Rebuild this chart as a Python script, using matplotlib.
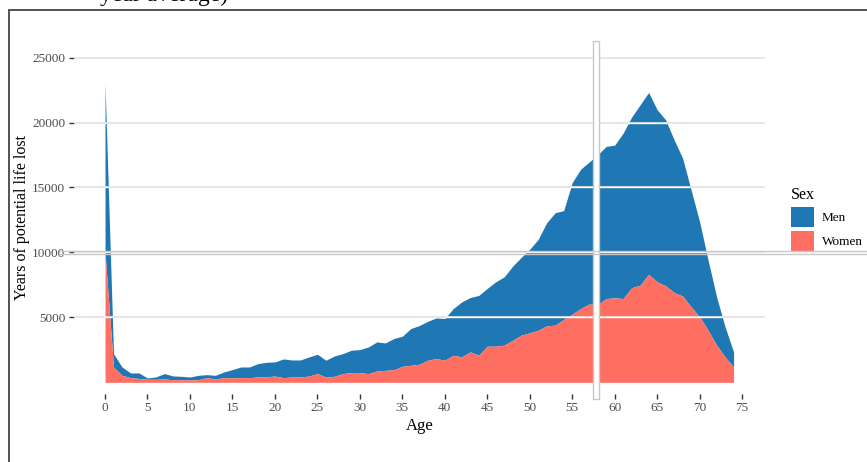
import matplotlib
matplotlib.use("Agg")
import matplotlib.pyplot as plt
from matplotlib.patches import Rectangle, Patch
from matplotlib.lines import Line2D
import numpy as np

plt.rcParams['font.family'] = ['Liberation Serif', 'DejaVu Serif']

ages = list(range(0, 75))
women = [9950, 1180, 540, 360, 300, 230, 230, 260, 200, 200,
         180, 200, 360, 260, 360, 330, 360, 360, 410, 430,
         480, 360, 410, 410, 480, 670, 410, 460, 670, 750,
         750, 670, 870, 920, 970, 1230, 1310, 1390, 1700, 1830,
         1700, 2080, 1960, 2340, 2080, 2780, 2780, 2860, 3240, 3630,
         3810, 4010, 4350, 4400, 4840, 5250, 5680, 6030, 5960, 6450,
         6500, 6450, 7280, 7480, 8310, 7740, 7430, 6920, 6640, 5810,
         5040, 4010, 2860, 1950, 1180]
men = [13050, 1020, 640, 360, 420, 100, 190, 410, 290, 260,
       230, 340, 230, 280, 440, 650, 820, 820, 1030, 1110,
       1090, 1440, 1310, 1310, 1470, 1490, 1290, 1570, 1540, 1720,
       1770, 2050, 2240, 2110, 2400, 2320, 2830, 2980, 3000, 3130,
       3210, 3600, 4230, 4190, 4610, 4450, 4960, 5260, 5710, 5990,
       6430, 7000, 7940, 8660, 8380, 10130, 10730, 10930, 11560, 11710,
       11760, 12740, 13140, 13890, 14010, 13250, 12780, 11750, 10620, 9000,
       7330, 5400, 3720, 2320, 1160]
series_labels = ["Men", "Women"]
x_ticks = list(range(0, 80, 5))
y_ticks = [5000, 10000, 15000, 20000, 25000]

C_MEN = "#1F77B4"
C_WOMEN = "#FF6F61"

W, H = 867, 462
fig = plt.figure(figsize=(W / 100, H / 100), dpi=100)
ax = fig.add_axes([73.6 / W, 68 / H, (765 - 73.6) / W, (394 - 42) / H])

x = np.array(ages)
w = np.array(women)
tot = w + np.array(men)

p_men = ax.fill_between(x, w, tot, color=C_MEN, lw=0, zorder=2)
p_women = ax.fill_between(x, 0, w, color=C_WOMEN, lw=0, zorder=2)

ax.set_xlim(-3.7, 77.7)
ax.set_ylim(-900, 26200)
ax.set_xticks(x_ticks)
ax.set_yticks(y_ticks)
for s in ax.spines.values():
    s.set_visible(False)
ax.tick_params(axis='both', length=3.5, width=1, color='#333333',
               labelcolor='#4d4d4d', labelsize=9.5, pad=2.5)

# gridlines drawn on top
for yv in y_ticks:
    ax.axhline(yv, color='#e2e2e2', lw=1.2, zorder=3)
    for poly in (p_men, p_women):
        ln = ax.axhline(yv, color='white', lw=1.0, zorder=4)
        ln.set_clip_path(poly.get_paths()[0], transform=ax.transData)

# double line artifact near 10000
y10 = ax.transData.transform((0, 10000))[1]
for off in (-1.6, 1.6):
    yy = (y10 + off) / H
    fig.add_artist(Line2D([60 / W, 1.0], [yy, yy], color='#c8c8c8', lw=1.0, zorder=6))

# vertical bar artifact
ax.add_patch(Rectangle((57.5, -1250), 0.6, 27500, facecolor='white',
                       edgecolor='#c8c8c8', lw=1.0, clip_on=False, zorder=7))

ax.set_xlabel("Age", fontsize=12, color='black', labelpad=3)
ax.set_ylabel("Years of potential life lost", fontsize=11.5, color='black', labelpad=1.5)

handles = [Patch(facecolor=C_MEN, edgecolor='none'),
           Patch(facecolor=C_WOMEN, edgecolor='none')]
leg = fig.legend(handles, series_labels, title="Sex", loc='upper left',
                 bbox_to_anchor=(791 / W, 1 - 187 / H), frameon=False,
                 fontsize=9.5, title_fontsize=11.5, handlelength=1.75,
                 handleheight=1.95, handletextpad=0.6, labelspacing=0.3,
                 borderpad=0, borderaxespad=0)
leg._legend_box.align = "left"

# figure border
fig.add_artist(Rectangle((9 / W, -0.1), 1.2, 1 - 10 / H + 0.1, transform=fig.transFigure,
                         facecolor='none', edgecolor='#444444', lw=1.3, zorder=10))

# cut-off title at top
fig.text(100 / W, 1 - 1 / H, "year average)", fontsize=17, color='black',
         ha='left', va='baseline')

fig.savefig("out.png", dpi=100)
